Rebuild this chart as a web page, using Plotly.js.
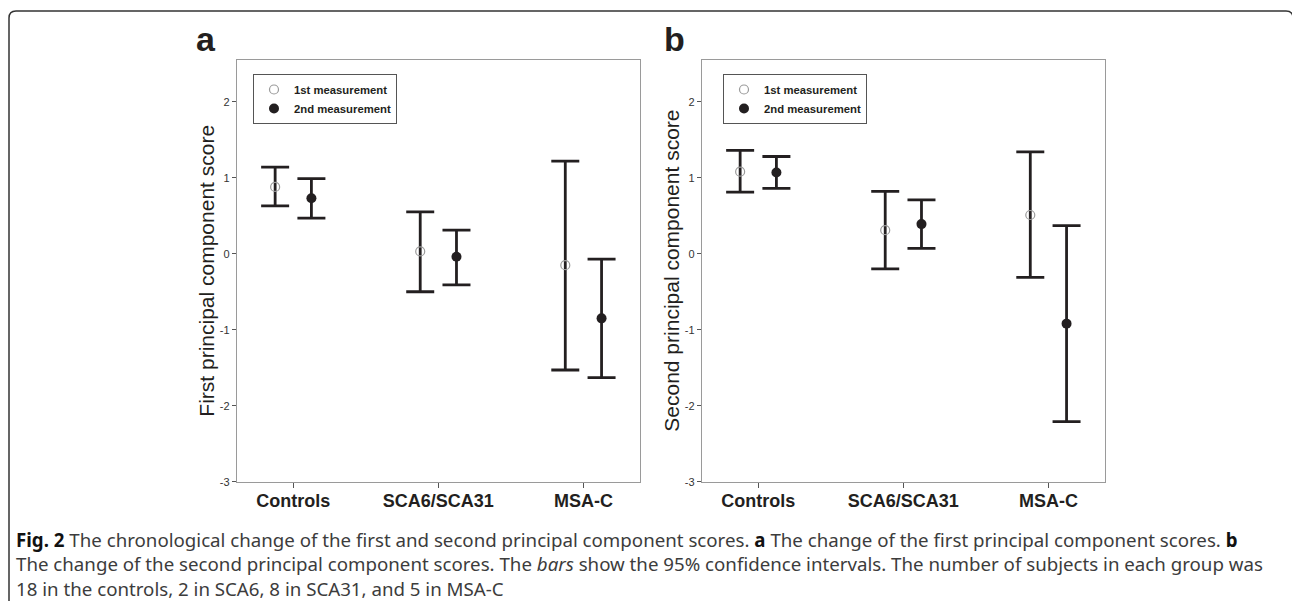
<!DOCTYPE html>
<html>
<head>
<meta charset="utf-8">
<script src="https://cdn.plot.ly/plotly-3.0.1.min.js"></script>
<style>html,body{margin:0;padding:0;background:#fff;}#chart{width:1292px;height:601px;}</style>
</head>
<body>
<div id="chart"></div>
<script>
// ---- data ----
const groups = ['Controls', 'SCA6/SCA31', 'MSA-C'];
const seriesNames = ['1st measurement', '2nd measurement'];
const yTickVals = [-3, -2, -1, 0, 1, 2];

// panel a: first principal component score (mean, lower / upper 95% CI)
const pc1FirstMean  = [0.88, 0.03, -0.15];
const pc1FirstLow   = [0.63, -0.50, -1.53];
const pc1FirstHigh  = [1.14, 0.55, 1.22];
const pc1SecondMean = [0.73, -0.04, -0.85];
const pc1SecondLow  = [0.47, -0.41, -1.63];
const pc1SecondHigh = [0.99, 0.31, -0.07];

// panel b: second principal component score
const pc2FirstMean  = [1.08, 0.31, 0.51];
const pc2FirstLow   = [0.81, -0.20, -0.31];
const pc2FirstHigh  = [1.36, 0.82, 1.34];
const pc2SecondMean = [1.07, 0.39, -0.92];
const pc2SecondLow  = [0.86, 0.07, -2.21];
const pc2SecondHigh = [1.28, 0.71, 0.37];

// ---- helpers ----
const W = 1292, H = 601;
const px = v => v / W;
const py = v => 1 - v / H;
const INK = '#231f20';
const SANS = 'Arial, "Liberation Sans", sans-serif';

function errBar(mean, lo, hi) {
  return {
    type: 'data', symmetric: false,
    array: hi.map((h, i) => h - mean[i]),
    arrayminus: mean.map((m, i) => m - lo[i]),
    color: INK, thickness: 2.8, width: 14
  };
}
function firstTrace(mean, lo, hi, xa, ya, leg) {
  return {
    type: 'scatter', mode: 'markers', name: seriesNames[0],
    x: groups, y: mean, xaxis: xa, yaxis: ya, legend: leg,
    marker: {symbol: 'circle-open', size: 9, color: '#9a9a9a', line: {width: 1.2, color: '#9a9a9a'}},
    error_y: errBar(mean, lo, hi), offsetgroup: '1', cliponaxis: false
  };
}
function secondTrace(mean, lo, hi, xa, ya, leg) {
  return {
    type: 'scatter', mode: 'markers', name: seriesNames[1],
    x: groups, y: mean, xaxis: xa, yaxis: ya, legend: leg,
    marker: {symbol: 'circle', size: 10, color: INK},
    error_y: errBar(mean, lo, hi), offsetgroup: '2', cliponaxis: false
  };
}

const data = [
  firstTrace(pc1FirstMean, pc1FirstLow, pc1FirstHigh, 'x', 'y', 'legend'),
  secondTrace(pc1SecondMean, pc1SecondLow, pc1SecondHigh, 'x', 'y', 'legend'),
  firstTrace(pc2FirstMean, pc2FirstLow, pc2FirstHigh, 'x2', 'y2', 'legend2'),
  secondTrace(pc2SecondMean, pc2SecondLow, pc2SecondHigh, 'x2', 'y2', 'legend2')
];

const yDomain = [py(481.7), py(60)];
function xAxis(domain, anchor) {
  return {
    domain: domain, anchor: anchor, type: 'category', range: [-0.39, 2.39],
    showgrid: false, zeroline: false, showline: true, mirror: true,
    linecolor: '#9a9a9a', linewidth: 1,
    ticks: 'outside', ticklen: 5, tickwidth: 1, tickcolor: '#555',
    ticklabelstandoff: -2,
    tickfont: {family: SANS, size: 18, color: INK, weight: 'bold'},
    fixedrange: true
  };
}
function yAxis(anchor) {
  return {
    domain: yDomain, anchor: anchor, range: [-3, 2.55],
    tickvals: yTickVals, ticktext: yTickVals.map(String),
    showgrid: false, zeroline: false, showline: true, mirror: true,
    linecolor: '#9a9a9a', linewidth: 1,
    ticks: 'outside', ticklen: 4, tickwidth: 1, tickcolor: '#555',
    tickfont: {family: SANS, size: 11, color: '#333'},
    fixedrange: true
  };
}
function legendBox(xLeft) {
  return {
    x: px(xLeft), y: py(74), xanchor: 'left', yanchor: 'top',
    bgcolor: '#fff', bordercolor: '#555', borderwidth: 1,
    font: {family: SANS, size: 11.3, color: INK, weight: 'bold'},
    tracegroupgap: 0, itemwidth: 30
  };
}

const capFont = {family: '"Noto Sans", "Open Sans", sans-serif', size: 18.7, color: '#3c3c3c'};
const captionLines = [
  '<b style="color:#111">Fig. 2</b> The chronological change of the first and second principal component scores. <b style="color:#111">a</b> The change of the first principal component scores. <b style="color:#111">b</b>',
  'The change of the second principal component scores. The <i>bars</i> show the 95% confidence intervals. The number of subjects in each group was',
  '18 in the controls, 2 in SCA6, 8 in SCA31, and 5 in MSA-C'
];
const captionY = [539, 563.5, 588];

function label(text, x, y, size, angle) {
  return {text: text, x: px(x), y: py(y), xref: 'paper', yref: 'paper',
    xanchor: 'center', yanchor: 'middle', showarrow: false, textangle: angle || 0,
    font: {family: SANS, size: size, color: INK, weight: angle ? 'normal' : 'bold'}};
}

const annotations = [
  label('a', 206, 39.5, 34),
  label('b', 674, 39.5, 34),
  label('First principal component score', 205.7, 271, 21, -90),
  label('Second principal component score', 670.7, 271, 21, -90)
].concat(captionLines.map((t, i) => ({
  text: t, x: px(14), y: py(captionY[i]), xref: 'paper', yref: 'paper',
  xanchor: 'left', yanchor: 'middle', showarrow: false, align: 'left', font: capFont
})));

// outer frame with rounded corners (left, top, top-right)
const fx0 = px(9), fx1 = px(1293), fyTop = py(11), rX = px(7), rY = 7 / H;
const framePath = `M ${fx0},-0.1 L ${fx0},${fyTop - rY} Q ${fx0},${fyTop} ${fx0 + rX},${fyTop} ` +
  `L ${fx1 - rX},${fyTop} Q ${fx1},${fyTop} ${fx1},${fyTop - rY} L ${fx1},-0.1`;

const layout = {
  width: W, height: H,
  margin: {l: 0, r: 0, t: 0, b: 0},
  paper_bgcolor: '#fff', plot_bgcolor: '#fff',
  scattermode: 'group', scattergap: 0.5,
  showlegend: true,
  xaxis: xAxis([px(236.7), px(640)], 'y'),
  yaxis: yAxis('x'),
  xaxis2: xAxis([px(701.7), px(1105)], 'y2'),
  yaxis2: yAxis('x2'),
  legend: legendBox(253),
  legend2: legendBox(723),
  annotations: annotations,
  shapes: [{type: 'path', xref: 'paper', yref: 'paper', path: framePath,
            line: {color: '#333', width: 1.5}, fillcolor: 'rgba(0,0,0,0)'}]
};

Plotly.newPlot('chart', data, layout, {displayModeBar: false, staticPlot: true});
</script>
</body>
</html>
